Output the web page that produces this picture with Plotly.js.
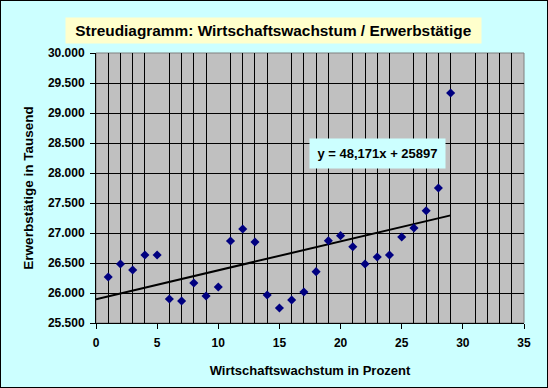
<!DOCTYPE html>
<html><head><meta charset="utf-8">
<script src="https://cdn.plot.ly/plotly-3.0.1.min.js"></script>
<style>
html,body{margin:0;padding:0;background:#CCFFFF;}
#chart{width:546px;height:386px;border:1px solid #000;}
</style></head>
<body><div id="chart"></div>
<script>
// Data
const wachstum = [1,2,3,4,5,6,7,8,9,10,11,12,13,14,15,16,17,18,19,20,21,22,23,24,25,26,27,28,29];
const erwerbstaetige = [26267,26483,26383,26633,26633,25900,25867,26167,25950,26100,26867,27067,26850,25967,25750,25883,26017,26356,26872,26956,26772,26483,26600,26633,26933,27083,27372,27750,29333];
const trendX = [0, 29];
const trendY = [25897, 27294];
const titleText = 'Streudiagramm: Wirtschaftswachstum / Erwerbstätige';
const xTitle = 'Wirtschaftswachstum in Prozent';
const yTitle = 'Erwerbstätige in Tausend';
const eqText = 'y = 48,171x + 25897';

const F = 'Liberation Sans, Arial, sans-serif';
const traces = [
  {x: trendX, y: trendY, mode:'lines', line:{color:'#000', width:2}, hoverinfo:'skip'},
  {x: wachstum, y: erwerbstaetige, mode:'markers', marker:{symbol:'diamond', color:'#000080', size:7}}
];
const layout = {
  width:546, height:386,
  margin:{l:95, r:23, t:52, b:64},
  paper_bgcolor:'#CCFFFF', plot_bgcolor:'#C0C0C0',
  showlegend:false,
  separators:',.',
  font:{family:F, color:'#000'},
  xaxis:{range:[0,35], dtick:5, tick0:0, ticks:'outside', ticklen:5, tickcolor:'#000',
    showgrid:false, zeroline:false, showline:true, linecolor:'#000', linewidth:1,
    minor:{dtick:1, showgrid:true, gridcolor:'#000', gridwidth:1},
    ticklabelstandoff:4,
    tickfont:{family:F, size:12, weight:'bold'},
    title:{text:xTitle, font:{family:F, size:13, weight:'bold'}, standoff:16}},
  yaxis:{range:[25500,30000], dtick:500, ticks:'outside', ticklen:5, tickcolor:'#000',
    tickformat:',d', showgrid:true, gridcolor:'#000', gridwidth:1, zeroline:false,
    showline:true, linecolor:'#000', linewidth:1,
    ticklabelstandoff:3,
    tickfont:{family:F, size:12, weight:'bold'},
    title:{text:yTitle, font:{family:F, size:13.5, weight:'bold'}, standoff:11}},
  shapes:[{type:'rect', xref:'paper', yref:'paper', x0:0, x1:1, y0:0, y1:1, line:{color:'#808080', width:1}, layer:'below'}],
  annotations:[
    {text:titleText, xref:'paper', yref:'paper', x:0.415, y:1, yshift:23, xanchor:'center', yanchor:'middle',
     showarrow:false, bgcolor:'#FFFFCC', width:411, height:21, borderpad:2,
     font:{family:F, size:15.4, weight:'bold', color:'#000'}},
    {text:eqText, xref:'x', yref:'y', x:23, y:28330, showarrow:false, bgcolor:'#CCFFFF',
     width:131, height:25, borderpad:2, font:{family:F, size:13, weight:'bold', color:'#000'}}
  ]
};
Plotly.newPlot('chart', traces, layout, {displayModeBar:false, staticPlot:true});
</script></body></html>
